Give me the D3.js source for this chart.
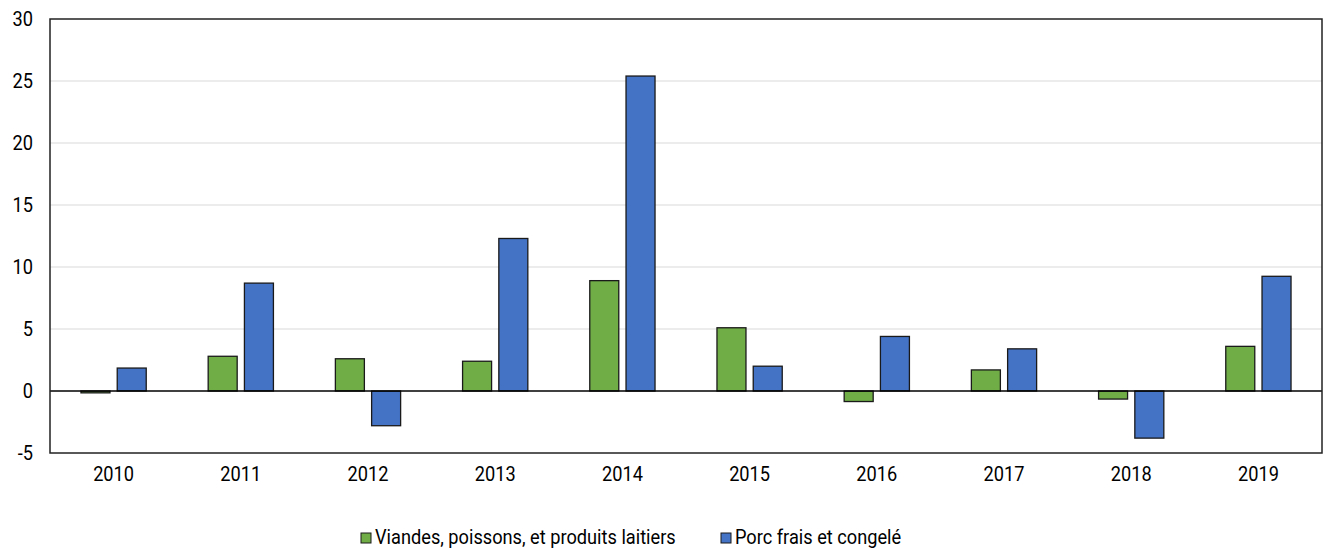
<!DOCTYPE html>
<html>
<head>
<meta charset="utf-8">
<script src="https://cdn.jsdelivr.net/npm/d3@7"></script>
<style>
    body { margin: 0; background: #fff; }
    #chart { width: 1324px; height: 548px; }
    text { font-family: Roboto, "Liberation Sans", sans-serif; fill: #000; }
</style>
</head>
<body>
<div id="chart"></div>
<script>
const years = ["2010","2011","2012","2013","2014","2015","2016","2017","2018","2019"];
const seriesNames = ["Viandes, poissons, et produits laitiers", "Porc frais et congelé"];
const viandes = [-0.15, 2.8, 2.6, 2.4, 8.9, 5.1, -0.85, 1.7, -0.65, 3.6];
const porc = [1.85, 8.7, -2.8, 12.3, 25.4, 2.0, 4.4, 3.4, -3.8, 9.25];
const yTicks = [-5, 0, 5, 10, 15, 20, 25, 30];
const colors = ["#70AD47", "#4472C4"];

const width = 1324;
const height = 548;
const margin = {top: 19, left: 50, right: 2, bottom: 95};
const fontSize = "20px";
const squeeze = 0.91; // narrow the glyphs a bit, the original uses a condensed face

const svg = d3.select("#chart")
    .append("svg")
    .attr("width", width)
    .attr("height", height);

const data = years.map(function(y, i) {
    return {year: y, values: [viandes[i], porc[i]]};
});

function condense(sel) {
    sel.each(function() {
        const len = this.getComputedTextLength();
        d3.select(this)
            .attr("textLength", len * squeeze)
            .attr("lengthAdjust", "spacingAndGlyphs");
    });
}

/* scales */
const x0 = d3.scaleBand()
    .domain(years)
    .range([margin.left, width - margin.right])
    .paddingInner(0.487)
    .paddingOuter(0.2435);

const x1 = d3.scaleBand()
    .domain([0, 1])
    .range([0, x0.bandwidth()])
    .paddingInner(0.2);

const yScale = d3.scaleLinear()
    .domain([-5, 30])
    .range([height - margin.bottom, margin.top]);

/* gridlines */
svg.append("g")
    .selectAll("line")
    .data(yTicks.filter(function(t) { return t !== 0 && t !== -5 && t !== 30; }))
    .enter()
    .append("line")
        .attr("x1", margin.left)
        .attr("x2", width - margin.right)
        .attr("y1", function(d) { return yScale(d); })
        .attr("y2", function(d) { return yScale(d); })
        .attr("stroke", "#d9d9d9")
        .attr("stroke-width", 1.2);

/* y axis labels */
const yAxis = svg.append("g")
    .attr("transform", `translate(${margin.left},0)`)
    .call(d3.axisLeft(yScale).tickValues(yTicks).tickSize(0).tickPadding(17)
        .tickFormat(function(d) { return String(d); }));
yAxis.select(".domain").remove();
yAxis.selectAll("text")
    .style("font-size", fontSize)
    .style("font-family", "Roboto, sans-serif")
    .call(condense);

/* bars */
const groups = svg.selectAll(".year")
    .data(data)
    .enter()
    .append("g")
    .attr("class", "year")
    .attr("transform", function(d) { return `translate(${x0(d.year)},0)`; });

groups.selectAll("rect")
    .data(function(d) { return d.values; })
    .enter()
    .append("rect")
        .attr("x", function(d, i) { return x1(i); })
        .attr("y", function(d) { return yScale(Math.max(0, d)); })
        .attr("width", x1.bandwidth())
        .attr("height", function(d) { return Math.abs(yScale(d) - yScale(0)); })
        .attr("fill", function(d, i) { return colors[i]; })
        .attr("stroke", "#1a1a1a")
        .attr("stroke-width", 1.3);

/* zero line */
svg.append("line")
    .attr("x1", margin.left)
    .attr("x2", width - margin.right)
    .attr("y1", yScale(0))
    .attr("y2", yScale(0))
    .attr("stroke", "#000")
    .attr("stroke-width", 1.3);

/* frame */
svg.append("rect")
    .attr("x", margin.left)
    .attr("y", margin.top)
    .attr("width", width - margin.right - margin.left)
    .attr("height", yScale(-5) - margin.top)
    .attr("fill", "none")
    .attr("stroke", "#222")
    .attr("stroke-width", 1.5);

/* x axis labels */
const xAxis = svg.append("g")
    .attr("transform", `translate(0,${yScale(-5)})`)
    .call(d3.axisBottom(x0).tickSize(0).tickPadding(14));
xAxis.select(".domain").remove();
xAxis.selectAll("text")
    .style("font-size", fontSize)
    .style("font-family", "Roboto, sans-serif")
    .call(condense);

/* legend */
const legendX = [361, 721];
const legend = svg.selectAll(".legend")
    .data(seriesNames)
    .enter()
    .append("g")
    .attr("class", "legend")
    .attr("transform", function(d, i) { return `translate(${legendX[i]},533)`; });

legend.append("rect")
    .attr("width", 10)
    .attr("height", 10)
    .attr("fill", function(d, i) { return colors[i]; })
    .attr("stroke", "#1a1a1a")
    .attr("stroke-width", 1);

legend.append("text")
    .attr("x", 14)
    .attr("y", 11)
    .style("font-size", fontSize)
    .text(function(d) { return d; })
    .call(condense);
</script>
</body>
</html>
